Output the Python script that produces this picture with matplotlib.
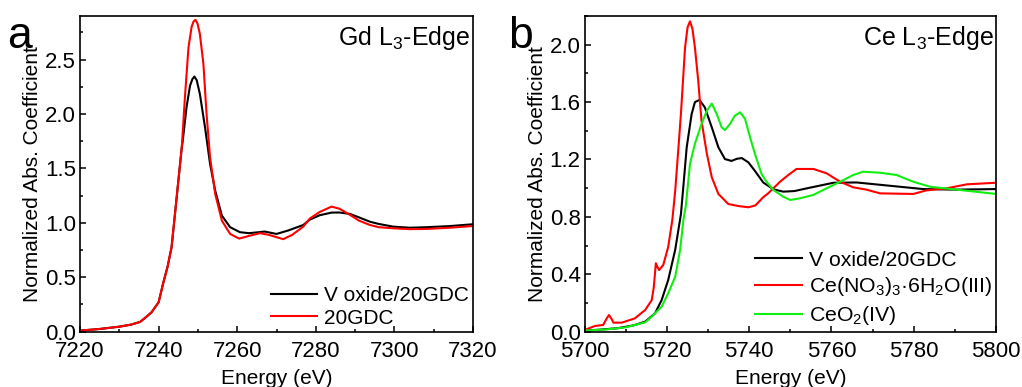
import matplotlib
matplotlib.use("Agg")
import matplotlib.pyplot as plt
from matplotlib.ticker import MultipleLocator

plt.rcParams['font.family'] = ['Liberation Sans', 'DejaVu Sans']
plt.rcParams['mathtext.fontset'] = 'custom'
plt.rcParams['mathtext.rm'] = 'Liberation Sans'
plt.rcParams['mathtext.default'] = 'regular'

# ---------------- Panel a: Gd L3-edge ----------------
gd_e_black = [7220, 7225, 7230, 7233, 7235.3, 7237, 7238.2, 7240, 7241.2, 7242.3, 7243.3,
              7244.6, 7245.9, 7246.1, 7247.1, 7248.0, 7248.6, 7249.1, 7249.7, 7250.5,
              7251.8, 7253.1, 7254.4, 7256.1, 7258.2, 7260.7, 7263, 7265.8, 7267,
              7270.0, 7273, 7276.8, 7278.5, 7281, 7284.0, 7286, 7288.7, 7291, 7293.8,
              7296, 7299.7, 7304, 7308.2, 7314, 7320]
gd_black = [0.01, 0.025, 0.046, 0.065, 0.09, 0.14, 0.178, 0.27, 0.45, 0.60, 0.776,
            1.235, 1.695, 1.74, 2.06, 2.26, 2.32, 2.344, 2.31, 2.185,
            1.88, 1.54, 1.296, 1.066, 0.96, 0.914, 0.905, 0.915, 0.92,
            0.898, 0.93, 0.98, 1.03, 1.07, 1.094, 1.095, 1.082, 1.05, 1.01,
            0.99, 0.965, 0.955, 0.96, 0.97, 0.987]

gd_e_red = [7220, 7225, 7230, 7233, 7235.3, 7237, 7238.2, 7240, 7241.2, 7242.3, 7243.3,
            7244.6, 7245.9, 7246.7, 7247.6, 7248.4, 7248.9, 7249.4, 7249.9, 7250.5,
            7251.4, 7252.2, 7253.1, 7254.4, 7256.1, 7258.2, 7260.5, 7263, 7265.8,
            7268, 7271.7, 7274, 7276.8, 7278.5, 7281, 7284.0, 7286, 7288.7, 7291,
            7293.8, 7296, 7299.7, 7304, 7308.2, 7314, 7320]
gd_red = [0.01, 0.025, 0.046, 0.065, 0.09, 0.14, 0.178, 0.27, 0.45, 0.60, 0.776,
          1.235, 1.695, 2.154, 2.61, 2.80, 2.85, 2.865, 2.83, 2.736,
          2.46, 2.0, 1.60, 1.266, 1.02, 0.898, 0.855, 0.88, 0.905,
          0.89, 0.85, 0.89, 0.965, 1.04, 1.10, 1.149, 1.13, 1.073, 1.02,
          0.98, 0.96, 0.95, 0.942, 0.944, 0.955, 0.971]

# ---------------- Panel b: Ce L3-edge ----------------
ce_e_black = [5700, 5704, 5708.2, 5712, 5714.7, 5717.1, 5718.7, 5720.3, 5722.0, 5723.4,
              5724.1, 5724.8, 5726.0, 5726.8, 5727.9, 5729.2, 5730.9, 5732.5, 5734.1,
              5735.7, 5737.0, 5738.2, 5739.8, 5741.4, 5743.4, 5745.9, 5748.3, 5751,
              5754.0, 5760.5, 5766.1, 5774.2, 5782.3, 5790.4, 5800]
ce_black = [0.008, 0.015, 0.025, 0.045, 0.07, 0.128, 0.22, 0.36, 0.57, 0.82,
            1.05, 1.285, 1.517, 1.60, 1.615, 1.564, 1.424, 1.285, 1.203,
            1.19, 1.205, 1.21, 1.18, 1.12, 1.04, 0.992, 0.976, 0.98,
            0.999, 1.038, 1.04, 1.017, 0.994, 0.99, 0.994]

ce_e_red = [5700, 5702.5, 5704.5, 5705.3, 5705.9, 5706.5, 5707.0, 5709, 5712.2, 5714.7,
            5716.3, 5716.8, 5717.3, 5717.7, 5718.1, 5719.1, 5720.3, 5721.3, 5722.0,
            5722.8, 5723.4, 5724.4, 5725.0, 5725.6, 5726.2, 5726.8, 5727.6, 5728.4,
            5729.7, 5730.9, 5732.5, 5734.9, 5737.5, 5739.8, 5741.5, 5743.4, 5744.6,
            5747.5, 5749.5, 5751.5, 5755.6, 5758.8, 5762.1, 5765.3, 5768.5, 5771.8,
            5779.9, 5783.1, 5788.0, 5792.9, 5800]
ce_red = [0.012, 0.04, 0.047, 0.09, 0.116, 0.09, 0.063, 0.063, 0.093, 0.151,
          0.22, 0.31, 0.477, 0.45, 0.43, 0.465, 0.59, 0.778, 0.98,
          1.285, 1.52, 1.98, 2.12, 2.163, 2.11, 1.98, 1.75, 1.47,
          1.24, 1.076, 0.96, 0.89, 0.875, 0.867, 0.88, 0.937, 0.964,
          1.045, 1.092, 1.134, 1.134, 1.104, 1.045, 1.006, 0.99, 0.964,
          0.96, 0.985, 0.999, 1.027, 1.038]

ce_e_green = [5700, 5705, 5709.9, 5714.7, 5716.3, 5718.7, 5720.3, 5722.0, 5723.2, 5724.0,
              5724.6, 5725.6, 5726.8, 5728.4, 5729.7, 5730.9, 5732.1, 5733.3, 5734.1,
              5735.3, 5736.5, 5737.8, 5739.0, 5740.2, 5741.4, 5743.0, 5744.2, 5745.9,
              5748.3, 5750, 5752.4, 5755.6, 5758.8, 5762.1, 5765.3, 5767.7, 5771.8,
              5775.8, 5779.9, 5784.0, 5790.4, 5800]
ce_green = [0.008, 0.015, 0.03, 0.065, 0.105, 0.174, 0.268, 0.383, 0.57, 0.78,
            0.88, 1.17, 1.31, 1.447, 1.54, 1.59, 1.517, 1.424, 1.405,
            1.447, 1.505, 1.529, 1.482, 1.355, 1.238, 1.099, 1.045, 0.987,
            0.94, 0.918, 0.93, 0.953, 0.999, 1.045, 1.092, 1.115, 1.108,
            1.092, 1.045, 1.01, 0.99, 0.96]

labels_a = ["V oxide/20GDC", "20GDC"]
labels_b = ["V oxide/20GDC", "Ce(NO$_3$)$_3$\u00b76H$_2$O(III)", "CeO$_2$(IV)"]

GREEN = '#11ee11'
FS = 15
TFS = 16
TITLE_FS = 18
LW = 1.5

fig = plt.figure(figsize=(10.22, 3.87), dpi=100)
ax1 = fig.add_axes([80/1022, 1-331.7/387, 393/1022, (331.7-16)/387])
ax2 = fig.add_axes([584.7/1022, 1-331.7/387, 411.3/1022, (331.7-16)/387])

ax1.plot(gd_e_black, gd_black, color='black', lw=LW, label=labels_a[0])
ax1.plot(gd_e_red, gd_red, color='red', lw=LW, label=labels_a[1])
ax1.set_xlim(7220, 7320)
ax1.set_ylim(0, 2.9)
ax1.xaxis.set_major_locator(MultipleLocator(20))
ax1.xaxis.set_minor_locator(MultipleLocator(10))
ax1.yaxis.set_major_locator(MultipleLocator(0.5))
ax1.yaxis.set_minor_locator(MultipleLocator(0.25))
ax1.text(0.993, 0.975, "Gd L$_3$-Edge", transform=ax1.transAxes, ha='right', va='top', fontsize=TITLE_FS)

ax2.plot(ce_e_black, ce_black, color='black', lw=LW, label=labels_b[0])
ax2.plot(ce_e_red, ce_red, color='red', lw=LW, label=labels_b[1])
ax2.plot(ce_e_green, ce_green, color=GREEN, lw=LW, label=labels_b[2])
ax2.set_xlim(5700, 5800)
ax2.set_ylim(0, 2.2)
ax2.xaxis.set_major_locator(MultipleLocator(20))
ax2.xaxis.set_minor_locator(MultipleLocator(10))
ax2.yaxis.set_major_locator(MultipleLocator(0.4))
ax2.yaxis.set_minor_locator(MultipleLocator(0.2))
ax2.text(0.995, 0.975, "Ce L$_3$-Edge", transform=ax2.transAxes, ha='right', va='top', fontsize=TITLE_FS)

for ax in (ax1, ax2):
    ax.set_xlabel("Energy (eV)", fontsize=FS, labelpad=5)
    ax.set_ylabel("Normalized Abs. Coefficient", fontsize=FS, labelpad=2)
    ax.tick_params(which='both', direction='in', top=False, right=False, labelsize=TFS, width=1.1)
    ax.tick_params(axis='x', which='major', length=4, pad=6.5)
    ax.tick_params(axis='y', which='major', length=4, pad=3)
    ax.tick_params(which='minor', length=2.5)
    for s in ax.spines.values():
        s.set_linewidth(1.2)

ax1.legend(loc='lower right', frameon=False, fontsize=FS, handlelength=2.2,
           handletextpad=0.35, labelspacing=0.15, borderaxespad=0.1, borderpad=0.1)
ax2.legend(loc='lower right', frameon=False, fontsize=15.3, handlelength=2.2,
           handletextpad=0.35, labelspacing=0.28, borderaxespad=0.1, borderpad=0.1)

fig.text(7/1022, 1-48/387, "a", fontsize=32, ha='left', va='baseline')
fig.text(508/1022, 1-48/387, "b", fontsize=32, ha='left', va='baseline')

fig.savefig("out.png", dpi=100)
